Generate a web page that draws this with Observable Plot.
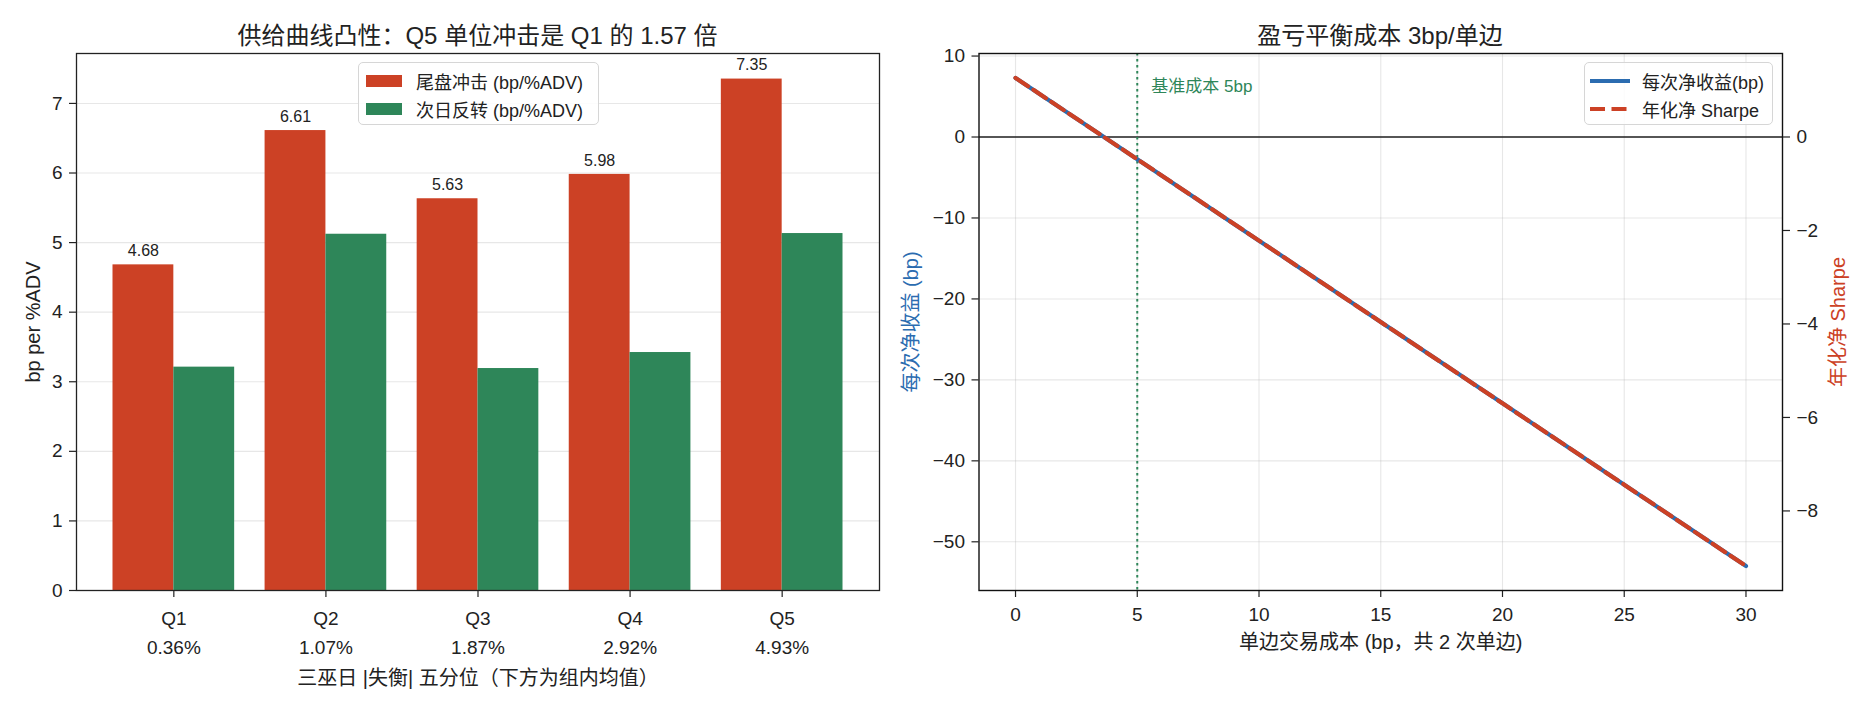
<!DOCTYPE html>
<html><head><meta charset="utf-8">
<script src="https://cdn.jsdelivr.net/npm/d3@7"></script>
<script src="https://cdn.jsdelivr.net/npm/@observablehq/plot@0.6"></script>
<style>
body{margin:0;background:#fff;}
#root{position:relative;width:1870px;height:710px;font-family:"Liberation Sans","Noto Sans CJK SC",sans-serif;color:#222;overflow:hidden;}
.ctr{position:absolute;transform:translate(-50%,-50%);white-space:nowrap;}
.legend{position:absolute;background:rgba(255,255,255,0.85);border:1.3px solid #d6d6d6;border-radius:5px;font-size:18px;box-sizing:border-box;}
.legend .row{position:absolute;white-space:nowrap;transform:translateY(-50%);}
.legend .sw{position:absolute;}
.plotwrap{position:absolute;top:0;}
</style></head><body><div id="root"></div>
<script>
// ---------- data ----------
const quintiles = ["Q1", "Q2", "Q3", "Q4", "Q5"];
const quintileMeans = ["0.36%", "1.07%", "1.87%", "2.92%", "4.93%"];
const closeImpact = [4.68, 6.61, 5.63, 5.98, 7.35];      // 尾盘冲击 (bp/%ADV)
const nextDayReversal = [3.21, 5.12, 3.19, 3.42, 5.13];  // 次日反转 (bp/%ADV)
const barTicks = [0, 1, 2, 3, 4, 5, 6, 7];

const costBp = [0, 5, 10, 15, 20, 25, 30];
const netBp = [7.3, -2.75, -12.8, -22.85, -32.9, -42.95, -53.0];
const netSharpe = [1.264, -0.476, -2.217, -3.958, -5.698, -7.439, -9.18];
const baseCost = 5;
const costTicks = [0, 5, 10, 15, 20, 25, 30];
const bpTicks = [10, 0, -10, -20, -30, -40, -50];
const sharpeTicks = [0, -2, -4, -6, -8];

const seriesNames = ["尾盘冲击 (bp/%ADV)", "次日反转 (bp/%ADV)"];
const lineNames = ["每次净收益(bp)", "年化净 Sharpe"];

// ---------- style ----------
const RED = "#cc4125", GREEN = "#2e8659", BLUE = "#2b6cb0", INK = "#222";
const FONT = '"Liberation Sans","Noto Sans CJK SC",sans-serif';
const GRID = {stroke: "#b0b0b0", strokeOpacity: 0.3, strokeWidth: 1.1};
const fmtMinus = d => (d < 0 ? "\u2212" + Math.abs(d) : String(d));
const H = 710, MT = 53, MB = 120;

const root = document.getElementById("root");
function place(node, left) {
  const w = document.createElement("div");
  w.className = "plotwrap";
  w.style.left = left + "px";
  w.appendChild(node);
  root.appendChild(w);
}
function label(text, x, y, opts = {}) {
  const d = document.createElement("div");
  d.className = "ctr";
  d.textContent = text;
  d.style.left = x + "px";
  d.style.top = y + "px";
  d.style.fontSize = (opts.size || 20) + "px";
  d.style.color = opts.color || INK;
  root.appendChild(d);
}

// ---------- left panel: grouped bars ----------
const bars = quintiles.flatMap((q, i) => [
  {i, q, s: seriesNames[0], v: closeImpact[i], x1: i - 0.4, x2: i},
  {i, q, s: seriesNames[1], v: nextDayReversal[i], x1: i, x2: i + 0.4}
]);
const yMaxBar = Math.max(...closeImpact) * 1.05;

const left = Plot.plot({
  width: 880, height: H,
  marginLeft: 76, marginRight: 1, marginTop: MT, marginBottom: MB,
  style: {fontFamily: FONT, fontSize: "19px", color: INK, background: "transparent", overflow: "visible"},
  x: {type: "linear", domain: [-0.64, 4.64], axis: null},
  y: {domain: [0, yMaxBar], axis: null},
  color: {domain: seriesNames, range: [RED, GREEN]},
  marks: [
    Plot.gridY(barTicks, GRID),
    Plot.rect(bars, {x1: "x1", x2: "x2", y1: 0, y2: "v", fill: "s"}),
    Plot.text(bars.filter(d => d.s === seriesNames[0]), {
      x: d => (d.x1 + d.x2) / 2, y: "v", text: d => d.v.toFixed(2),
      dy: -14, fontSize: 16, fill: INK
    }),
    Plot.axisY({ticks: barTicks, tickSize: 7, tickPadding: 7, fontSize: 19, label: null, stroke: INK, strokeWidth: 1.2}),
    Plot.axisX({ticks: [0, 1, 2, 3, 4], tickFormat: i => quintiles[i], tickSize: 7, tickPadding: 14, fontSize: 19, label: null, stroke: INK, strokeWidth: 1.2}),
    Plot.text(quintileMeans, {x: (d, i) => i, text: d => d, frameAnchor: "bottom", lineAnchor: "middle", dy: 57, fontSize: 19, fill: INK}),
    Plot.text(["三巫日 |失衡| 五分位（下方为组内均值）"], {text: d => d, frameAnchor: "bottom", lineAnchor: "middle", dy: 88, fontSize: 20, fill: INK}),
    Plot.text(["bp per %ADV"], {text: d => d, frameAnchor: "left", textAnchor: "middle", lineAnchor: "middle", rotate: -90, dx: -43, fontSize: 20, fill: INK}),
    Plot.frame({stroke: INK, strokeWidth: 1.3})
  ]
});
place(left, 0);

// ---------- right panel: break-even (net bp, left axis) ----------
const lineData = costBp.map((c, i) => ({c, bp: netBp[i], sh: netSharpe[i]}));
const bpLo = Math.min(...netBp), bpHi = Math.max(...netBp), bpPad = (bpHi - bpLo) * 0.05;
const shLo = Math.min(...netSharpe), shHi = Math.max(...netSharpe), shPad = (shHi - shLo) * 0.05;
const xDom = [costBp[0] - 1.5, costBp[costBp.length - 1] + 1.5];
const RW = 990, RML = 98.5, RMR = 88;

const right = Plot.plot({
  width: RW, height: H,
  marginLeft: RML, marginRight: RMR, marginTop: MT, marginBottom: MB,
  style: {fontFamily: FONT, fontSize: "19px", color: INK, background: "transparent", overflow: "visible"},
  x: {domain: xDom, axis: null},
  y: {domain: [bpLo - bpPad, bpHi + bpPad], axis: null},
  marks: [
    Plot.gridX(costTicks, GRID),
    Plot.gridY(bpTicks, GRID),
    Plot.ruleY([0], {stroke: INK, strokeWidth: 1.3}),
    Plot.ruleX([baseCost], {stroke: GREEN, strokeWidth: 2, strokeDasharray: "2.5,3.5"}),
    Plot.line(lineData, {x: "c", y: "bp", stroke: BLUE, strokeWidth: 4.2}),
    Plot.text([`基准成本 ${baseCost}bp`], {x: baseCost, text: d => d, frameAnchor: "top", lineAnchor: "middle", dy: 33, dx: 14, textAnchor: "start", fontSize: 17, fill: GREEN}),
    Plot.axisY({ticks: bpTicks, tickFormat: fmtMinus, tickSize: 7, tickPadding: 7, fontSize: 19, label: null, stroke: INK, strokeWidth: 1.2}),
    Plot.axisX({ticks: costTicks, tickSize: 7, tickPadding: 10, fontSize: 19, label: null, stroke: INK, strokeWidth: 1.2}),
    Plot.text(["单边交易成本 (bp，共 2 次单边)"], {text: d => d, frameAnchor: "bottom", lineAnchor: "middle", dy: 52, fontSize: 20, fill: INK}),
    Plot.text(["每次净收益 (bp)"], {text: d => d, frameAnchor: "left", textAnchor: "middle", lineAnchor: "middle", rotate: -90, dx: -67, fontSize: 20, fill: BLUE}),
    Plot.frame({stroke: "#111", strokeWidth: 1.4})
  ]
});
place(right, 880);

// ---------- right panel twin axis: Sharpe ----------
const twin = Plot.plot({
  width: RW, height: H,
  marginLeft: RML, marginRight: RMR, marginTop: MT, marginBottom: MB,
  style: {fontFamily: FONT, fontSize: "19px", color: INK, background: "transparent", overflow: "visible"},
  x: {domain: xDom, axis: null},
  y: {domain: [shLo - shPad, shHi + shPad], axis: null},
  marks: [
    Plot.line(lineData, {x: "c", y: "sh", stroke: RED, strokeWidth: 4.2, strokeDasharray: "15,6.5"}),
    Plot.axisY({anchor: "right", ticks: sharpeTicks, tickFormat: fmtMinus, tickSize: 7, tickPadding: 7, fontSize: 19, label: null, stroke: INK, strokeWidth: 1.2}),
    Plot.text(["年化净 Sharpe"], {text: d => d, frameAnchor: "right", textAnchor: "middle", lineAnchor: "middle", rotate: -90, dx: 56, fontSize: 20, fill: RED})
  ]
});
place(twin, 880);

// ---------- titles ----------
label("供给曲线凸性：Q5 单位冲击是 Q1 的 1.57 倍", 477.5, 33, {size: 24});
label("盈亏平衡成本 3bp/单边", 1380, 33, {size: 24});

// ---------- legends ----------
function legendBox(x, y, w, h, entries) {
  const box = document.createElement("div");
  box.className = "legend";
  Object.assign(box.style, {left: x + "px", top: y + "px", width: w + "px", height: h + "px"});
  entries.forEach((e, k) => {
    const cy = 18 + k * 28;
    const sw = document.createElementNS("http://www.w3.org/2000/svg", "svg");
    sw.setAttribute("class", "sw");
    sw.setAttribute("width", 42); sw.setAttribute("height", 14);
    sw.style.left = e.swx + "px"; sw.style.top = (cy - 7) + "px";
    if (e.kind === "patch") {
      sw.innerHTML = `<rect x="0" y="1" width="36" height="12" fill="${e.color}"/>`;
    } else {
      sw.innerHTML = `<line x1="0" x2="40" y1="7" y2="7" stroke="${e.color}" stroke-width="4.2" ${e.dash ? `stroke-dasharray="${e.dash}"` : ""}/>`;
    }
    box.appendChild(sw);
    const t = document.createElement("div");
    t.className = "row";
    t.textContent = e.name;
    t.style.left = e.tx + "px"; t.style.top = cy + "px";
    box.appendChild(t);
  });
  root.appendChild(box);
}
legendBox(358, 62, 241, 63, [
  {kind: "patch", color: RED, name: seriesNames[0], swx: 7, tx: 57},
  {kind: "patch", color: GREEN, name: seriesNames[1], swx: 7, tx: 57}
]);
legendBox(1584, 62, 189, 63, [
  {kind: "line", color: BLUE, name: lineNames[0], swx: 5, tx: 57},
  {kind: "line", color: RED, dash: "15,6.5", name: lineNames[1], swx: 5, tx: 57}
]);
</script></body></html>
